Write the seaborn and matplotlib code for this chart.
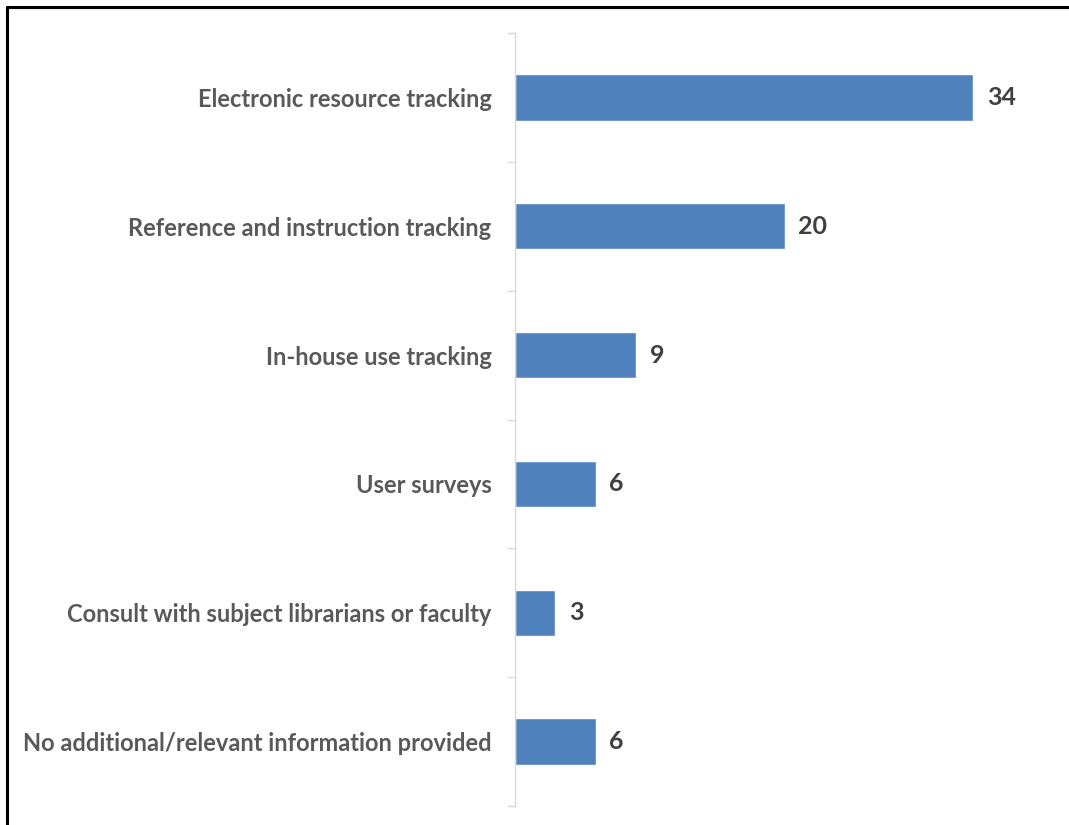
import matplotlib
matplotlib.use("Agg")
import matplotlib.pyplot as plt
from matplotlib.lines import Line2D
from matplotlib.ticker import FixedLocator
import seaborn as sns
import pandas as pd

categories = [
    "Electronic resource tracking",
    "Reference and instruction tracking",
    "In-house use tracking",
    "User surveys",
    "Consult with subject librarians or faculty",
    "No additional/relevant information provided",
]
counts = [34, 20, 9, 6, 3, 6]

sns.set_theme(style="white")
plt.rcParams["font.family"] = ["Lato", "DejaVu Sans"]

df = pd.DataFrame({"category": categories, "count": counts})

fig = plt.figure(figsize=(10.69, 8.25), dpi=100)
ax = fig.add_axes([0.4818, 0.023, 0.5017, 0.937])

sns.barplot(data=df, x="count", y="category", order=categories,
            color="#4F81BD", saturation=1, width=0.36, ax=ax)

ax.set_xlim(0, 39.8)
ax.set_ylim(len(categories) - 0.5, -0.5)
ax.set_xlabel("")
ax.set_ylabel("")
ax.set_xticks([])

for s in ["top", "right", "bottom"]:
    ax.spines[s].set_visible(False)
ax.spines["left"].set_color("#d9d9d9")
ax.spines["left"].set_linewidth(1.0)

# Category labels without tick marks; short ticks at category boundaries
ax.tick_params(axis="y", which="major", length=0, pad=17,
               labelsize=17, labelcolor="#595959")
for lbl in ax.get_yticklabels():
    lbl.set_fontweight("bold")
ax.yaxis.set_minor_locator(FixedLocator([i - 0.5 for i in range(len(categories) + 1)]))
ax.tick_params(axis="y", which="minor", length=6, width=1.0, color="#d9d9d9", left=True)

# Value labels beside each bar
for i, v in enumerate(counts):
    ax.text(v + 1.0, i, str(v), va="center", ha="left",
            fontsize=18, fontweight="bold", color="#404040")

# Frame lines along the top and left edges of the figure
fig.add_artist(Line2D([0.0058, 1.0], [0.9903, 0.9903], transform=fig.transFigure,
                      color="#bfbfbf", linewidth=1.0))
fig.add_artist(Line2D([0.0065, 1.0], [0.9915, 0.9915], transform=fig.transFigure,
                      color="black", linewidth=2.2))
fig.add_artist(Line2D([0.0065, 0.0065], [0.0, 0.9915], transform=fig.transFigure,
                      color="black", linewidth=2.2))

fig.savefig("out.png", dpi=100)
